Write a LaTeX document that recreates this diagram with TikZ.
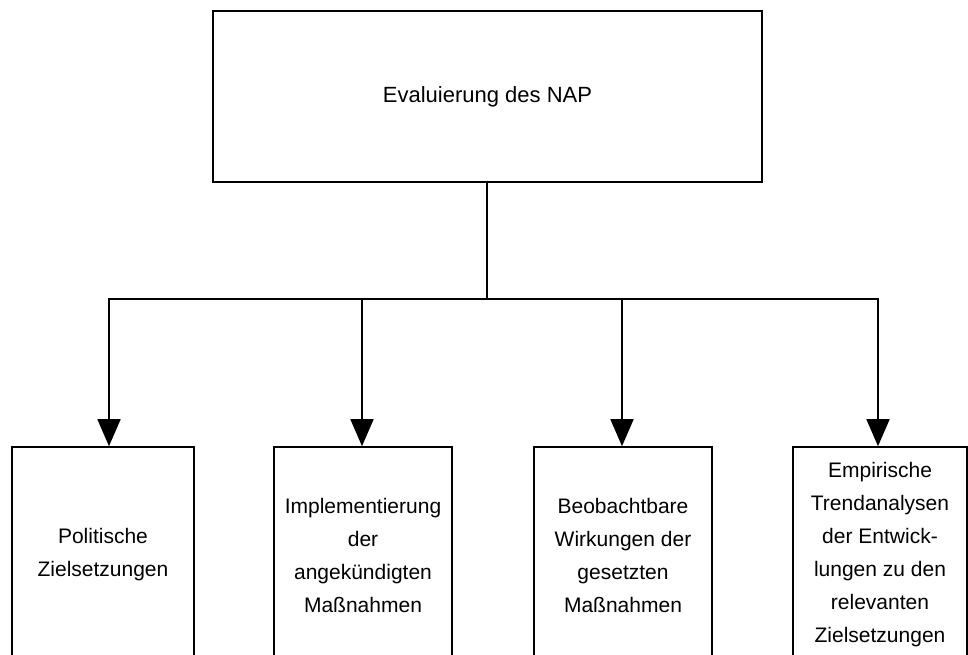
\documentclass[tikz,border=0pt]{standalone}
\usepackage{fontspec}
\setmainfont{Liberation Sans}
\usetikzlibrary{arrows.meta}
\begin{document}
\begin{tikzpicture}[x=1pt,y=-1pt,
  box/.style={draw=black,line width=1.6pt,rectangle,inner sep=0pt,align=center,
    font=\fontsize{21}{33}\selectfont,fill=white},
  conn/.style={draw=black,line width=1.6pt},
  arr/.style={conn,-{Triangle[length=27pt,width=23pt]}}]
\useasboundingbox (0,0) rectangle (968,654);
\fill[white] (0,0) rectangle (968,654);
\begin{scope}
\clip (0,0) rectangle (968,654);
\node[box,minimum width=549pt,minimum height=171pt,font=\fontsize{22}{33}\selectfont] (top) at (487.5,96.5) {Evaluierung des NAP};
\node[box,minimum width=182pt,minimum height=216pt] (b1) at (103,555) {Politische\\Zielsetzungen};
\node[box,minimum width=178pt,minimum height=216pt] (b2) at (363,555) {Implementierung\\der\\angekündigten\\Maßnahmen};
\node[box,minimum width=178pt,minimum height=216pt] (b3) at (623,555) {Beobachtbare\\Wirkungen der\\gesetzten\\Maßnahmen};
\node[box,minimum width=174pt,minimum height=216pt] (b4) at (880,555) {Empirische\\Trendanalysen\\der Entwick-\\lungen zu den\\relevanten\\Zielsetzungen};
\end{scope}
\coordinate (hub) at (487,299);
\coordinate (j1) at (109,299);
\coordinate (j2) at (362,299);
\coordinate (j3) at (622,299);
\coordinate (j4) at (878,299);
\draw[conn] (top.south -| hub) -- (hub);
\draw[conn,line cap=rect] (j1) -- (j4);
\draw[arr] (j1) -- (j1 |- b1.north);
\draw[arr] (j2) -- (j2 |- b2.north);
\draw[arr] (j3) -- (j3 |- b3.north);
\draw[arr] (j4) -- (j4 |- b4.north);
\end{tikzpicture}
\end{document}
